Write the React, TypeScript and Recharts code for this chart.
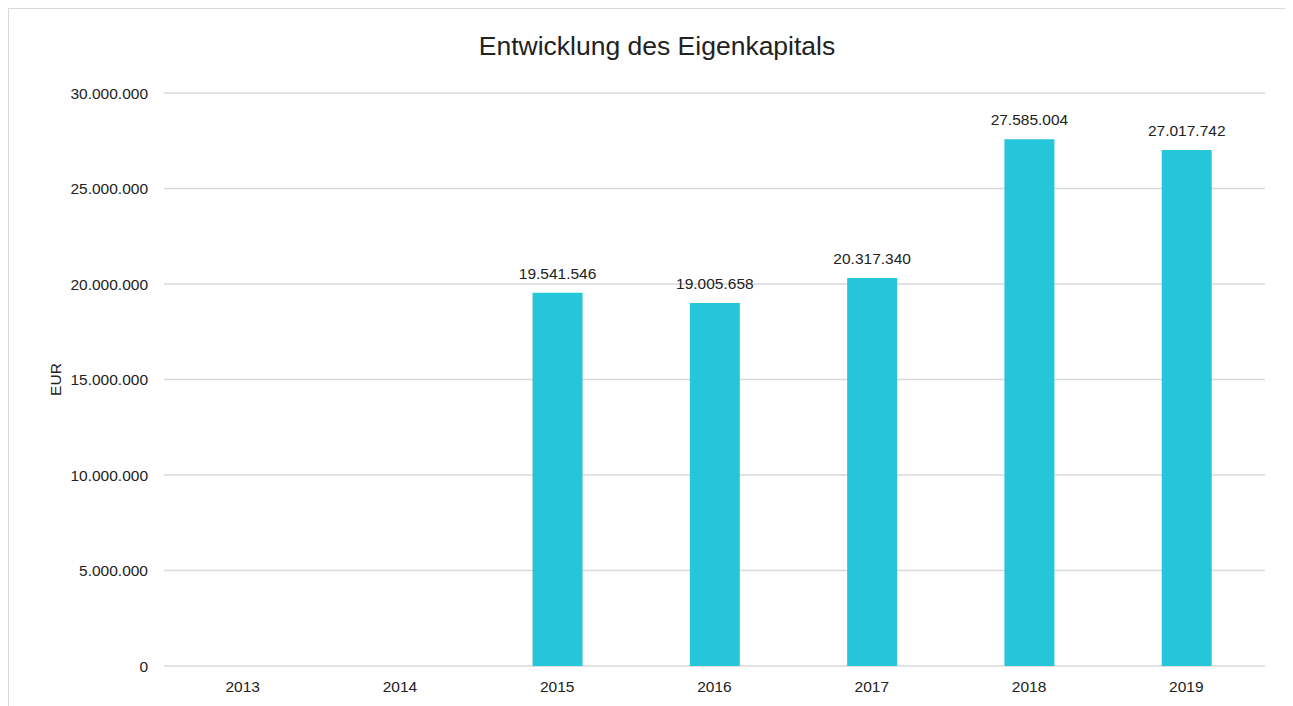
import React from 'react';
import { BarChart, Bar, XAxis, YAxis, CartesianGrid, LabelList, Label } from 'recharts';

const years = ['2013', '2014', '2015', '2016', '2017', '2018', '2019'];
const equity: (number | null)[] = [null, null, 19541546, 19005658, 20317340, 27585004, 27017742];
const yTicks = [0, 5000000, 10000000, 15000000, 20000000, 25000000, 30000000];

const data = years.map((year, i) => ({ year, equity: equity[i] }));

// German thousands separator
const fmt = (v: any) => {
  if (v === null || v === undefined || v === '') return '';
  return String(Math.round(Number(v))).replace(/\B(?=(\d{3})+(?!\d))/g, '.');
};

const FONT = '"Liberation Sans", Arial, sans-serif';

const App: React.FC = () => {
  return (
    <div
      style={{
        position: 'relative',
        width: 1290,
        height: 700,
        borderTop: '1px solid #d9d9d9',
        borderLeft: '1px solid #d9d9d9',
        fontFamily: FONT,
        background: '#fff',
      }}
    >
      {/* the frame runs past the window edge, keep scrollbars away */}
      <style>{'html, body { overflow: hidden; }'}</style>
      <div
        style={{
          position: 'absolute',
          top: 22,
          left: 0,
          width: 1296,
          textAlign: 'center',
          fontSize: 26.5,
          lineHeight: '30px',
          color: '#222',
        }}
      >
        Entwicklung des Eigenkapitals
      </div>
      <BarChart
        width={1290}
        height={700}
        data={data}
        margin={{ top: 84, right: 34, bottom: 13, left: 0 }}
        style={{ fontFamily: FONT }}
      >
        <CartesianGrid vertical={false} stroke="#d9d9d9" strokeWidth={1.5} />
        <XAxis
          dataKey="year"
          axisLine={false}
          tickLine={false}
          height={30}
          tickMargin={9}
          tick={{ fontSize: 15.5, fill: '#222' }}
        />
        <YAxis
          width={155}
          domain={[0, 30000000]}
          ticks={yTicks}
          axisLine={false}
          tickLine={false}
          tickMargin={10}
          tickFormatter={fmt}
          tick={{ fontSize: 15.5, fill: '#222' }}
        >
          <Label
            content={(props: any) => {
              const vb = props.viewBox || {};
              const cx = (vb.x || 0) + 46;
              const cy = (vb.y || 0) + (vb.height || 0) / 2;
              return (
                <text
                  x={cx}
                  y={cy}
                  transform={`rotate(-90 ${cx} ${cy})`}
                  textAnchor="middle"
                  dominantBaseline="central"
                  fontSize={15.5}
                  fill="#222"
                >
                  EUR
                </text>
              );
            }}
          />
        </YAxis>
        <Bar dataKey="equity" fill="#26C6DA" barSize={50} isAnimationActive={false}>
          <LabelList
            dataKey="equity"
            position="top"
            offset={14}
            formatter={fmt}
            style={{ fontSize: 15.5, fill: '#222' }}
          />
        </Bar>
      </BarChart>
    </div>
  );
};

export default App;
